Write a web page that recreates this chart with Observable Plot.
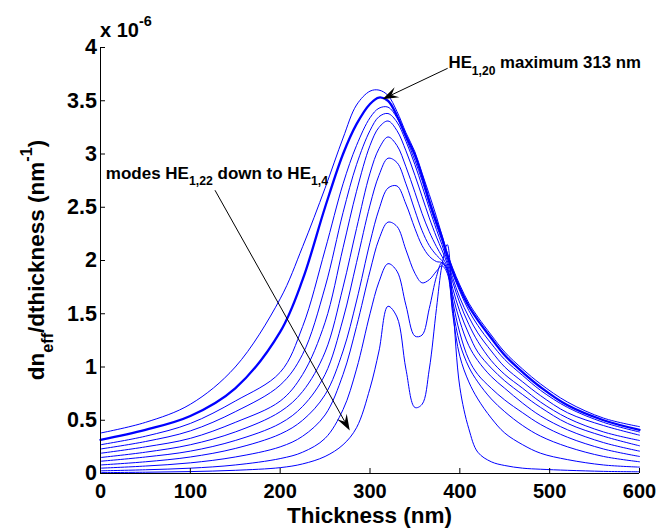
<!DOCTYPE html>
<html><head><meta charset="utf-8">
<script src="https://cdn.jsdelivr.net/npm/d3@7"></script>
<script src="https://cdn.jsdelivr.net/npm/@observablehq/plot@0.6"></script>
<style>html,body{margin:0;padding:0;background:#fff}svg{display:block}</style>
</head><body><div id="chart"></div>
<script>
// Thickness grid (nm)
const thickness = [0, 50, 100, 150, 200, 225, 250, 270, 285, 300, 310, 320, 330, 340, 350, 358, 366, 374, 380, 386, 392, 400, 410, 420, 435, 450, 470, 490, 520, 560, 600];
// dn_eff/dthickness (x 1e-6 nm^-1), curves from top (highest mode) to bottom (HE1,4)
const mode0 = [0.38, 0.48, 0.65, 1.00, 1.64, 2.13, 2.68, 3.15, 3.46, 3.59, 3.60, 3.55, 3.40, 3.20, 3.02, 2.82, 2.62, 2.41, 2.24, 2.07, 1.93, 1.77, 1.60, 1.47, 1.30, 1.14, 0.98, 0.84, 0.67, 0.52, 0.44];
const mode1 = [0.316, 0.41, 0.54, 0.80, 1.33, 1.82, 2.50, 3.00, 3.28, 3.47, 3.53, 3.50, 3.36, 3.17, 2.99, 2.79, 2.56, 2.36, 2.22, 2.05, 1.90, 1.74, 1.57, 1.44, 1.27, 1.11, 0.95, 0.81, 0.64, 0.50, 0.41];
const mode2 = [0.27, 0.35, 0.47, 0.68, 0.95, 1.38, 2.10, 2.72, 3.08, 3.34, 3.43, 3.44, 3.34, 3.15, 2.94, 2.75, 2.53, 2.33, 2.19, 2.03, 1.88, 1.71, 1.53, 1.39, 1.22, 1.07, 0.92, 0.78, 0.62, 0.48, 0.39];
const mode3 = [0.23, 0.30, 0.40, 0.58, 0.83, 1.12, 1.75, 2.45, 2.90, 3.22, 3.35, 3.38, 3.30, 3.12, 2.90, 2.70, 2.49, 2.29, 2.15, 2.00, 1.84, 1.65, 1.47, 1.32, 1.15, 1.00, 0.86, 0.73, 0.57, 0.45, 0.36];
const mode4 = [0.19, 0.25, 0.33, 0.48, 0.68, 0.93, 1.42, 2.12, 2.65, 3.08, 3.25, 3.31, 3.22, 3.03, 2.80, 2.60, 2.40, 2.22, 2.10, 1.97, 1.80, 1.60, 1.40, 1.24, 1.06, 0.93, 0.80, 0.67, 0.52, 0.39, 0.31];
const mode5 = [0.15, 0.20, 0.27, 0.39, 0.58, 0.77, 1.14, 1.75, 2.30, 2.82, 3.05, 3.16, 3.08, 2.88, 2.64, 2.44, 2.27, 2.13, 2.04, 1.94, 1.74, 1.52, 1.31, 1.14, 0.99, 0.87, 0.74, 0.62, 0.47, 0.35, 0.26];
const mode6 = [0.115, 0.155, 0.21, 0.31, 0.47, 0.63, 0.93, 1.45, 1.98, 2.52, 2.80, 2.96, 2.92, 2.72, 2.47, 2.28, 2.14, 2.05, 2.00, 1.92, 1.68, 1.43, 1.20, 1.06, 0.91, 0.80, 0.66, 0.54, 0.41, 0.29, 0.21];
const mode7 = [0.08, 0.11, 0.155, 0.235, 0.37, 0.50, 0.74, 1.15, 1.62, 2.17, 2.48, 2.68, 2.70, 2.53, 2.30, 2.14, 2.04, 1.99, 1.98, 1.90, 1.62, 1.32, 1.07, 0.93, 0.80, 0.69, 0.57, 0.46, 0.34, 0.23, 0.16];
const mode8 = [0.05, 0.07, 0.10, 0.155, 0.25, 0.35, 0.55, 0.93, 1.38, 1.90, 2.20, 2.36, 2.32, 2.10, 1.88, 1.79, 1.82, 1.90, 1.95, 1.88, 1.55, 1.22, 1.00, 0.86, 0.70, 0.58, 0.45, 0.35, 0.25, 0.16, 0.11];
const mode9 = [0.025, 0.035, 0.05, 0.08, 0.14, 0.20, 0.33, 0.60, 0.98, 1.50, 1.80, 1.97, 1.90, 1.58, 1.29, 1.30, 1.55, 1.85, 1.98, 1.92, 1.50, 1.10, 0.86, 0.70, 0.52, 0.38, 0.27, 0.19, 0.13, 0.08, 0.06];
const mode10 = [0.008, 0.012, 0.018, 0.03, 0.055, 0.09, 0.16, 0.27, 0.43, 0.80, 1.15, 1.57, 1.47, 0.98, 0.62, 0.65, 0.98, 1.55, 1.95, 2.15, 1.60, 0.81, 0.42, 0.20, 0.11, 0.075, 0.05, 0.04, 0.03, 0.02, 0.016];
const modes = [mode0, mode1, mode2, mode3, mode4, mode5, mode6, mode7, mode8, mode9, mode10];
const highlighted = 1; // HE1,20
const xTicks = [0, 100, 200, 300, 400, 500, 600];
const yTicks = [0, 0.5, 1, 1.5, 2, 2.5, 3, 3.5, 4];

const rows = [];
modes.forEach((m, i) => m.forEach((v, j) => rows.push({t: thickness[j], v, id: i})));
const thin = rows.filter(d => d.id !== highlighted);
const bold = rows.filter(d => d.id === highlighted);

const FONT = "'Liberation Sans', Arial, Helvetica, sans-serif";
const chart = Plot.plot({
  width: 656, height: 529,
  marginLeft: 100, marginRight: 17, marginTop: 47, marginBottom: 56,
  style: {fontFamily: FONT, background: "#fff"},
  x: {domain: [0, 600]},
  y: {domain: [0, 4]},
  marks: [
    Plot.line(thin, {x: "t", y: "v", z: "id", stroke: "#0000ff", strokeWidth: 1, curve: "catmull-rom"}),
    Plot.line(bold, {x: "t", y: "v", z: "id", stroke: "#0000ff", strokeWidth: 2.3, curve: "catmull-rom"}),
    Plot.ruleX([0], {stroke: "#000", strokeWidth: 1}),
    Plot.ruleY([0], {stroke: "#000", strokeWidth: 1}),
    Plot.axisX({ticks: xTicks, tickSize: -5, tickPadding: 15, tickFormat: d => String(d), fontSize: 20, fontWeight: "bold", fill: "#000", stroke: "#000", label: null}),
    Plot.axisY({ticks: yTicks, tickSize: -5, tickPadding: 8.5, tickFormat: d => String(d), fontSize: 21.5, fontWeight: "bold", fill: "#000", stroke: "#000", label: null})
  ]
});
document.getElementById("chart").append(chart);

const X = chart.scale("x"), Y = chart.scale("y");
const svg = d3.select(chart);
const g = svg.append("g").attr("font-family", FONT).attr("font-weight", "bold").attr("fill", "#000").attr("text-anchor", "start");

function richText(x, y, parts, size, attrs = {}) {
  const t = g.append("text").attr("x", x).attr("y", y).attr("font-size", size).attr("text-anchor", "start");
  for (const [k, v] of Object.entries(attrs)) t.attr(k, v);
  let shift = 0;
  for (const p of parts) {
    const s = t.append("tspan").text(p.s);
    const target = p.sub ? size * 0.4 : p.sup ? -size * 0.55 : 0;
    s.attr("dy", target - shift);
    shift = target;
    if (p.sub || p.sup) s.attr("font-size", size * 0.72);
  }
  return t;
}
function arrow(x1, y1, x2, y2) {
  const dx = x2 - x1, dy = y2 - y1, len = Math.hypot(dx, dy);
  const ux = dx / len, uy = dy / len, px = -uy, py = ux;
  const L = 16, W = 5.5, N = 10;
  g.append("line").attr("x1", x1).attr("y1", y1).attr("x2", x2 - ux * N).attr("y2", y2 - uy * N)
    .attr("stroke", "#000").attr("stroke-width", 1);
  const pts = [[x2, y2], [x2 - ux * L + px * W, y2 - uy * L + py * W], [x2 - ux * N, y2 - uy * N], [x2 - ux * L - px * W, y2 - uy * L - py * W]];
  g.append("polygon").attr("points", pts.map(p => p.join(",")).join(" ")).attr("fill", "#000");
}

// exponent label
richText(X.apply(0), 37, [{s: "x 10"}, {s: "-6", sup: true}], 20);

// axis labels
richText((X.apply(0) + X.apply(600)) / 2, 523, [{s: "Thickness (nm)"}], 22.5, {"text-anchor": "middle"});
richText(0, 0, [{s: "dn"}, {s: "eff", sub: true}, {s: "/dthickness (nm"}, {s: "-1", sup: true}, {s: ")"}], 22.5,
  {"text-anchor": "middle", transform: `translate(44,${(Y.apply(0) + Y.apply(4)) / 2}) rotate(-90)`});

// annotations
richText(X.apply(388), Y.apply(3.80), [{s: "HE"}, {s: "1,20", sub: true}, {s: " maximum 313 nm"}], 16.8);
arrow(X.apply(387), Y.apply(3.80), X.apply(314.5), Y.apply(3.51));
richText(X.apply(6.5), Y.apply(2.765), [{s: "modes HE"}, {s: "1,22", sub: true}, {s: " down to HE"}, {s: "1,4", sub: true}], 17);
arrow(X.apply(128), Y.apply(2.655), X.apply(278), Y.apply(0.40));
</script>
</body></html>
